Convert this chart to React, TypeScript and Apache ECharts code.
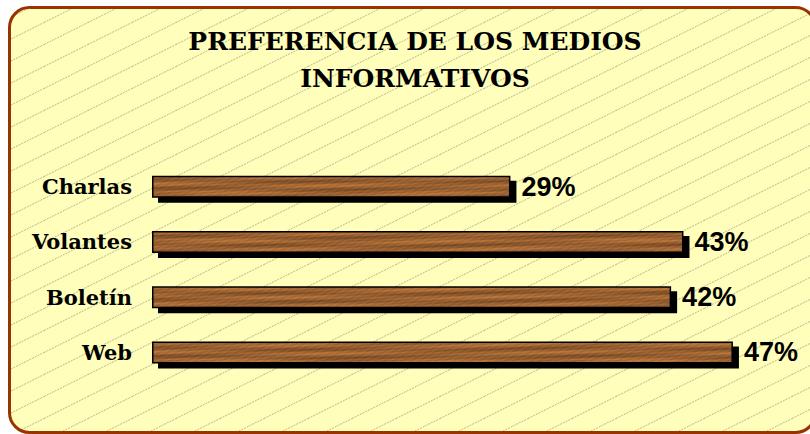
import React, { useEffect, useRef } from "react";
import * as echarts from "echarts";

const categories = ["Charlas", "Volantes", "Boletín", "Web"];
const values = [29, 43, 42, 47];
const titleText = "PREFERENCIA DE LOS MEDIOS\nINFORMATIVOS";
const axisMax = 50;

function makeHatch(): HTMLCanvasElement {
  const c = document.createElement("canvas");
  c.width = 44;
  c.height = 22;
  const ctx = c.getContext("2d")!;
  ctx.fillStyle = "#FFFFBB";
  ctx.fillRect(0, 0, 44, 22);
  ctx.strokeStyle = "#B8B890";
  ctx.lineWidth = 1;
  ctx.setLineDash([2, 1]);
  ctx.beginPath();
  for (const dy of [-22, 0, 22]) {
    ctx.moveTo(0, 22.5 + dy);
    ctx.lineTo(44, 0.5 + dy);
  }
  ctx.stroke();
  return c;
}

function makeWood(): HTMLCanvasElement {
  const w = 820;
  const h = 24;
  const c = document.createElement("canvas");
  c.width = w;
  c.height = h;
  const ctx = c.getContext("2d")!;
  const img = ctx.createImageData(w, h);
  for (let y = 0; y < h; y++) {
    for (let x = 0; x < w; x++) {
      const r =
        152 +
        16 * Math.sin(y * 0.8 + 1 + 0.6 * Math.sin(x * 0.013)) +
        12 * Math.sin(x * 0.031 + y * 0.6) +
        9 * Math.sin(x * 0.17 + y * 2.1) +
        6 * Math.sin(x * 0.73 + y * 1.3) +
        5 * Math.sin(x * 1.37 + y * 3.7);
      const i = (y * w + x) * 4;
      img.data[i] = Math.max(0, Math.min(255, r));
      img.data[i + 1] = Math.max(0, Math.min(255, r * 0.63));
      img.data[i + 2] = Math.max(0, Math.min(255, r * 0.32));
      img.data[i + 3] = 255;
    }
  }
  ctx.putImageData(img, 0, 0);
  return c;
}

export default function App() {
  const ref = useRef<HTMLDivElement>(null);
  useEffect(() => {
    if (!ref.current) return;
    const chart = echarts.init(ref.current, undefined, { renderer: "svg" });
    const hatch = makeHatch();
    const wood = makeWood();
    chart.setOption({
      animation: false,
      backgroundColor: "#FFFFFF",
      graphic: [
        {
          type: "rect",
          z: 0,
          shape: { x: 9.5, y: 7.5, width: 806, height: 425, r: 20 },
          style: {
            fill: { image: hatch, repeat: "repeat" },
            stroke: "#993300",
            lineWidth: 3,
          },
        },
      ],
      title: {
        text: titleText,
        left: 415,
        textAlign: "center",
        top: 23,
        padding: 0,
        textStyle: {
          fontFamily: "DejaVu Serif",
          fontWeight: "bold",
          fontSize: 25,
          lineHeight: 37,
          color: "#000000",
        },
      },
      grid: { left: 152, top: 159, height: 221, width: 618, containLabel: false },
      xAxis: { type: "value", min: 0, max: axisMax, show: false },
      yAxis: {
        type: "category",
        data: categories,
        inverse: true,
        axisLine: { show: false },
        axisTick: { show: false },
        splitLine: { show: false },
        axisLabel: {
          margin: 20,
          fontFamily: "DejaVu Serif",
          fontWeight: "bold",
          fontSize: 21,
          color: "#000000",
        },
      },
      series: [
        {
          type: "bar",
          data: values,
          barWidth: 22,
          itemStyle: {
            color: { image: wood, repeat: "repeat" },
            borderColor: "#000000",
            borderWidth: 1.5,
            shadowColor: "#000000",
            shadowOffsetX: 6,
            shadowOffsetY: 5,
            shadowBlur: 0,
          },
          label: {
            show: true,
            position: "right",
            distance: 11,
            formatter: "{c}%",
            fontFamily: "Liberation Sans",
            fontWeight: "bold",
            fontSize: 27,
            color: "#000000",
          },
        },
      ],
    });
    return () => chart.dispose();
  }, []);
  return (
    <div
      ref={ref}
      style={{ position: "fixed", left: 0, top: 0, width: 810, height: 434 }}
    />
  );
}
